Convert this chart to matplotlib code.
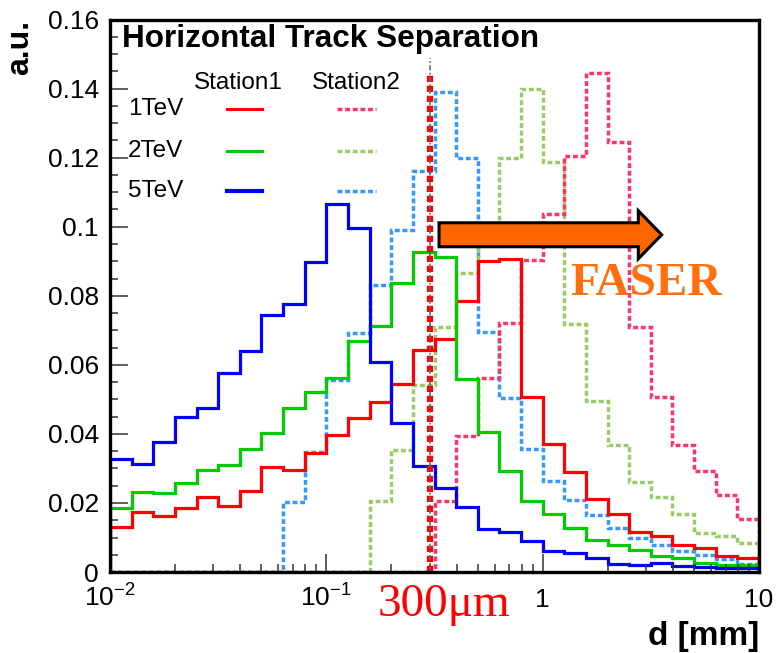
import numpy as np
import matplotlib
matplotlib.use("Agg")
import matplotlib.pyplot as plt
from matplotlib.ticker import LogLocator, NullFormatter, MultipleLocator, FuncFormatter
from matplotlib.patches import FancyArrow

plt.rcParams['font.family'] = ['Liberation Sans', 'DejaVu Sans']
plt.rcParams['mathtext.default'] = 'regular'

# --- data: 30 log bins from 10^-2 to 10 mm, 0.1 decade each ---
edges = 10 ** np.linspace(-2, 1, 31)

st1_1tev = [0.0129, 0.0174, 0.0163, 0.0184, 0.0218, 0.0190, 0.0234, 0.0305, 0.0295, 0.0345,
            0.0396, 0.0447, 0.0493, 0.0546, 0.0644, 0.0675, 0.0786, 0.0902, 0.0906, 0.0507,
            0.0372, 0.0291, 0.0211, 0.0168, 0.0117, 0.0105, 0.0079, 0.0069, 0.0047, 0.0040]
st1_2tev = [0.0185, 0.0233, 0.0228, 0.0258, 0.0295, 0.0310, 0.0355, 0.0403, 0.0476, 0.0520,
            0.0562, 0.0670, 0.0714, 0.0837, 0.0926, 0.0913, 0.0559, 0.0405, 0.0294, 0.0205,
            0.0168, 0.0127, 0.0093, 0.0079, 0.0064, 0.0047, 0.0040, 0.0027, 0.0020, 0.0020]
st1_5tev = [0.0328, 0.0314, 0.0378, 0.0450, 0.0474, 0.0576, 0.0639, 0.0745, 0.0777, 0.0898,
            0.1066, 0.0995, 0.0607, 0.0433, 0.0308, 0.0243, 0.0187, 0.0124, 0.0117, 0.0091,
            0.0062, 0.0056, 0.0040, 0.0023, 0.0019, 0.0025, 0.0017, 0.0016, 0.0013, 0.0012]
st2_1tev = [0] * 15 + [0.0205, 0.0394, 0.0563, 0.0722, 0.0903, 0.1037, 0.1205, 0.1444, 0.1246,
                       0.0710, 0.0508, 0.0368, 0.0292, 0.0223, 0.0155]
st2_2tev = [0] * 12 + [0.0205, 0.0353, 0.0542, 0.0709, 0.0867, 0.0980, 0.1198, 0.1400, 0.1188,
                       0.0717, 0.0495, 0.0368, 0.0261, 0.0218, 0.0168, 0.0112, 0.0104, 0.0083]
st2_5tev = [0] * 8 + [0.0202, 0.0347, 0.0556, 0.0692, 0.0832, 0.0990, 0.1162, 0.1390, 0.1199,
                      0.0694, 0.0505, 0.0355, 0.0263, 0.0210, 0.0166, 0.0127, 0.0100, 0.0079,
                      0.0062, 0.0049, 0.0037, 0.0023]

energies = ['1TeV', '2TeV', '5TeV']
colors_st1 = ['#ff0000', '#00cc00', '#0000ff']
colors_st2 = ['#ff3366', '#99cc66', '#3399ff']
cut_mm = 0.3

xtick_pos = [0.01, 0.1, 1, 10]
xtick_lab = ['$10^{-2}$', '$10^{-1}$', '1', '10']

dash = (0, (1.4, 0.8))

fig = plt.figure(figsize=(7.78, 6.53), dpi=100)
ax = fig.add_axes([0.1414, 0.124, 0.8342, 0.846])

# station2 (dashed) first, station1 (solid) on top
for vals, c in zip([st2_5tev, st2_2tev, st2_1tev], colors_st2[::-1]):
    ax.stairs(vals, edges, color=c, lw=2.5, ls=dash, baseline=0)
for vals, c in zip([st1_1tev, st1_2tev, st1_5tev], colors_st1):
    ax.stairs(vals, edges, color=c, lw=2.3, baseline=0)

# 300 um cut line
ax.plot([cut_mm, cut_mm], [0, 0.1445], color='#ff0000', lw=4.5, ls=(0, (1.0, 0.6)))
ax.plot([cut_mm, cut_mm], [0, 0.149], color='#666666', lw=1.2, ls=(0, (3, 1.5, 1, 1.5)))

ax.set_xscale('log')
ax.set_xlim(0.01, 10)
ax.set_ylim(0, 0.16)

ax.set_xticks(xtick_pos)
ax.set_xticklabels(xtick_lab)
ax.xaxis.set_minor_locator(LogLocator(base=10, subs=np.arange(2, 10)))
ax.xaxis.set_minor_formatter(NullFormatter())
ax.yaxis.set_major_locator(MultipleLocator(0.02))
ax.yaxis.set_minor_locator(MultipleLocator(0.005))
ax.yaxis.set_major_formatter(FuncFormatter(lambda v, p: '%g' % round(v, 3)))

ax.tick_params(which='both', direction='in', top=False, right=False, labelsize=19, color='#333333')
ax.tick_params(which='major', length=13, width=1.1)
ax.tick_params(which='minor', length=6, width=1.1)
ax.tick_params(axis='y', pad=8)
ax.tick_params(axis='x', pad=25)
for lbl in ax.get_xticklabels():
    lbl.set_va('baseline')

for s in ax.spines.values():
    s.set_linewidth(2.4)

ax.set_xlabel('d [mm]', fontsize=24, fontweight='bold', loc='right')
ax.xaxis.set_label_coords(1.0, -0.088)
ax.set_ylabel('a.u.', fontsize=23, fontweight='bold', loc='top')
ax.yaxis.set_label_coords(-0.116, 1.0)

ax.text(0.0185, 0.951, 'Horizontal Track Separation', transform=ax.transAxes,
        fontsize=22.7, fontweight='bold', ha='left', va='baseline')

# legend, ROOT style: two columns (Station1 / Station2)
ax.text(0.197, 0.885, 'Station1', transform=ax.transAxes, fontsize=17.5, ha='center', va='center')
ax.text(0.379, 0.885, 'Station2', transform=ax.transAxes, fontsize=17.5, ha='center', va='center')
row_y = [0.8375, 0.7625, 0.6896]
for e, c1, c2, yy in zip(energies, colors_st1, colors_st2, row_y):
    ax.text(0.028, yy, e, transform=ax.transAxes, fontsize=17.5, ha='left', va='center')
    ax.plot([0.180, 0.234], [yy, yy], transform=ax.transAxes, color=c1,
            lw=3 if e == '5TeV' else 2.2)
    ax.plot([0.350, 0.410], [yy, yy], transform=ax.transAxes, color=c2, lw=2.5, ls=dash)

# FASER arrow + label
ax.add_patch(FancyArrow(0.507, 0.6105, 0.343, 0, width=0.0434, head_width=0.087,
                        head_length=0.036, length_includes_head=True,
                        transform=ax.transAxes, fc='#ff6600', ec='black', lw=2.2))
ax.text(0.709, 0.501, 'FASER', transform=ax.transAxes, fontsize=34, fontweight='bold',
        family='Liberation Serif', color='#ff6f10', ha='left', va='baseline')

fig.text(0.486, 0.056, '300\u03bcm', fontsize=34, family='Liberation Serif',
         color='#ff0000', ha='left', va='baseline')

fig.savefig('out.png', dpi=100)
